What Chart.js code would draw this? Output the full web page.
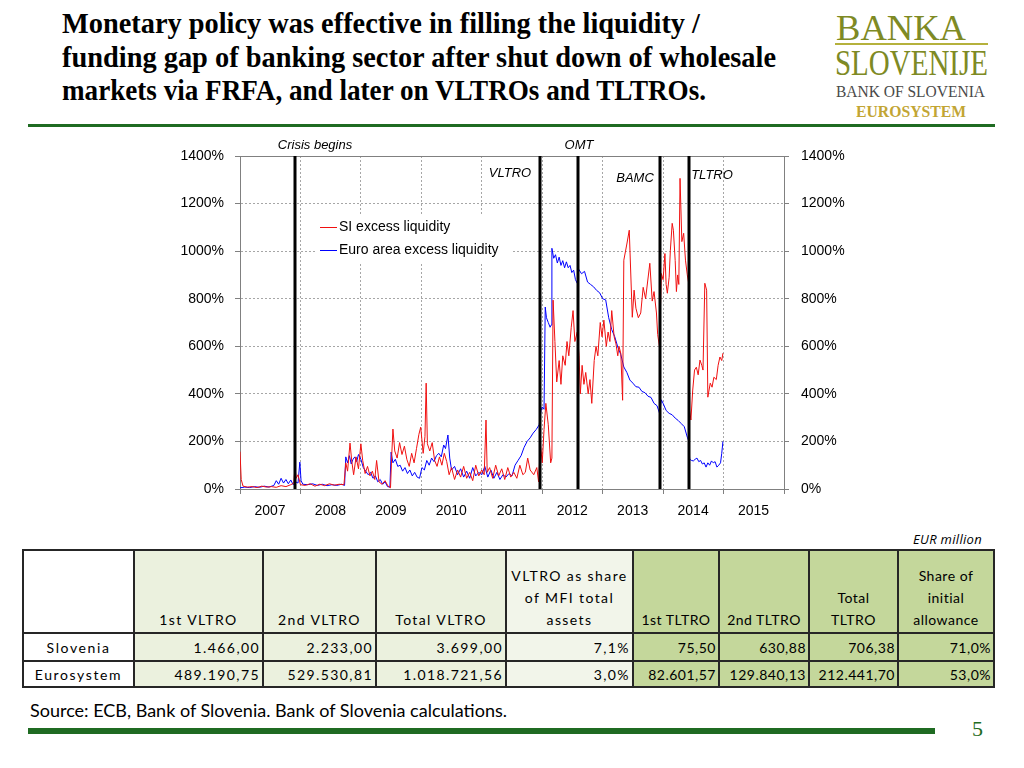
<!DOCTYPE html>
<html>
<head>
<meta charset="utf-8">
<script src="https://cdn.jsdelivr.net/npm/chart.js@4.4.0/dist/chart.umd.min.js"></script>
<style>
body { margin:0; width:1024px; height:768px; background:#fff; position:relative; overflow:hidden; font-family:'Liberation Sans', Arial, sans-serif; }
.fit { position:absolute; white-space:nowrap; transform-origin:0 0; display:inline-block; }
.title { font-family:'Liberation Serif', 'Times New Roman', serif; font-weight:bold; font-size:29px; line-height:34px; color:#000; }
.logo { font-family:'Liberation Serif', 'Times New Roman', serif; line-height:1; }
#chartBox { position:absolute; left:150px; top:130px; width:720px; height:400px; }
#tbl { position:absolute; left:22px; top:549px; width:971px; border-collapse:collapse; table-layout:fixed;
       font-family:Lato, 'Open Sans', sans-serif; font-size:14px; color:#000; }
#tbl td, #tbl th { border:2px solid #262626; padding:0 2px; font-weight:normal; white-space:nowrap; overflow:hidden; }
#tbl th { vertical-align:bottom; text-align:center; line-height:22px; padding-bottom:1px; }
#tbl tr.hd { height:83px; }
#tbl tr.r1 { height:28px; }
#tbl tr.r2 { height:26px; }
#tbl .w { background:#fff; }
#tbl .a { background:#ebf1de; letter-spacing:1.4px; }
#tbl .b { background:#f2f5ea; letter-spacing:1.4px; }
#tbl .g { background:#c4d79b; letter-spacing:0.5px; }
#tbl td { text-align:right; }
#tbl td.lab { text-align:center; background:#fff; letter-spacing:1.6px; }
</style>
</head>
<body>

<div id="t1" class="fit title" style="left:62px;top:6px">Monetary policy was effective in filling the liquidity /</div>
<div id="t2" class="fit title" style="left:62px;top:40px">funding gap of banking sector after shut down of wholesale</div>
<div id="t3" class="fit title" style="left:62px;top:73px">markets via FRFA, and later on VLTROs and TLTROs.</div>

<div id="l1" class="fit logo" style="left:836px;top:10px;font-size:36px;color:#7e8a24">BANKA</div>
<div style="position:absolute;left:835px;top:43px;width:153px;height:2px;background:#b5b13c"></div>
<div id="l2" class="fit logo" style="left:835px;top:45px;font-size:36px;color:#7e8a24">SLOVENIJE</div>
<div id="l3" class="fit logo" style="left:836px;top:83px;font-size:17px;color:#4a4a4a">BANK OF SLOVENIA</div>
<div id="l4" class="fit logo" style="left:856px;top:104px;font-size:16px;font-weight:bold;color:#c2a533">EUROSYSTEM</div>

<div style="position:absolute;left:28px;top:124px;width:967px;height:3px;background:#1f6b22"></div>

<div id="chartBox"><canvas id="liquidityChart" width="720" height="400"></canvas></div>

<div style="position:absolute;left:870px;top:530px;width:112px;text-align:right;font-family:'Open Sans', sans-serif;font-style:italic;font-weight:normal;font-size:13px;letter-spacing:0.3px">EUR million</div>

<table id="tbl">
  <colgroup>
    <col style="width:111px"><col style="width:129px"><col style="width:113px"><col style="width:130px"><col style="width:127px">
    <col style="width:86px"><col style="width:90px"><col style="width:89px"><col style="width:96px">
  </colgroup>
  <tr class="hd">
    <th class="w"></th><th class="a">1st VLTRO</th><th class="a">2nd VLTRO</th><th class="a">Total VLTRO</th>
    <th class="b">VLTRO as share<br>of MFI total<br>assets</th>
    <th class="g">1st TLTRO</th><th class="g">2nd TLTRO</th><th class="g">Total<br>TLTRO</th><th class="g">Share of<br>initial<br>allowance</th>
  </tr>
  <tr class="r1">
    <td class="lab">Slovenia</td><td class="a">1.466,00</td><td class="a">2.233,00</td><td class="a">3.699,00</td><td class="b">7,1%</td>
    <td class="g">75,50</td><td class="g">630,88</td><td class="g">706,38</td><td class="g">71,0%</td>
  </tr>
  <tr class="r2">
    <td class="lab">Eurosystem</td><td class="a">489.190,75</td><td class="a">529.530,81</td><td class="a">1.018.721,56</td><td class="b">3,0%</td>
    <td class="g">82.601,57</td><td class="g">129.840,13</td><td class="g">212.441,70</td><td class="g">53,0%</td>
  </tr>
</table>

<div id="src" class="fit" style="left:30px;top:701px;font-family:Lato, sans-serif;font-size:18px;line-height:1">Source: ECB, Bank of Slovenia. Bank of Slovenia calculations.</div>
<div style="position:absolute;left:28px;top:728px;width:907px;height:6px;background:#1f6b22"></div>
<div style="position:absolute;left:972px;top:716px;font-family:'Liberation Serif', serif;font-size:22px;color:#1f6b22">5</div>

<script>
// SI excess liquidity (red), x = fractional year
const siDates = [
  2007.00, 2007.02, 2007.05, 2007.12, 2007.20, 2007.28, 2007.36, 2007.44, 2007.52, 2007.60, 2007.68, 2007.76, 2007.84, 2007.89, 2007.91, 2007.93, 2007.96, 2008.00, 2008.08, 2008.16, 2008.24, 2008.32, 2008.40, 2008.48, 2008.56, 2008.64, 2008.72,
  2008.75, 2008.78, 2008.82, 2008.85, 2008.88, 2008.92, 2008.96, 2009.00, 2009.03, 2009.07, 2009.11, 2009.15, 2009.19, 2009.23, 2009.26, 2009.30, 2009.35, 2009.40, 2009.45, 2009.49,
  2009.51, 2009.53, 2009.56, 2009.60, 2009.64, 2009.68, 2009.72, 2009.76, 2009.80, 2009.84, 2009.88, 2009.92, 2009.96, 2009.99, 2010.03, 2010.06, 2010.08, 2010.10, 2010.14, 2010.18, 2010.22, 2010.26, 2010.30, 2010.34, 2010.38, 2010.42,
  2010.46, 2010.50, 2010.55, 2010.60, 2010.65, 2010.70, 2010.75, 2010.80, 2010.85, 2010.90, 2010.95, 2011.00, 2011.04, 2011.07, 2011.09, 2011.13, 2011.18, 2011.23, 2011.28, 2011.33, 2011.38, 2011.43, 2011.48, 2011.53, 2011.58,
  2011.63, 2011.68, 2011.72, 2011.76, 2011.80, 2011.86, 2011.91, 2011.94, 2011.97, 2012.00, 2012.03, 2012.06, 2012.10, 2012.14, 2012.16, 2012.18, 2012.21, 2012.24, 2012.28, 2012.31, 2012.34, 2012.38, 2012.41, 2012.44, 2012.48, 2012.51, 2012.54, 2012.58,
  2012.61, 2012.63, 2012.66, 2012.69, 2012.72, 2012.76, 2012.79, 2012.82, 2012.86, 2012.89, 2012.92, 2012.96, 2012.99, 2013.02, 2013.06, 2013.09, 2013.12, 2013.15, 2013.19, 2013.22,
  2013.25, 2013.27, 2013.30, 2013.33, 2013.35, 2013.40, 2013.44, 2013.49, 2013.52, 2013.55, 2013.59, 2013.63, 2013.67, 2013.71, 2013.78, 2013.82, 2013.85, 2013.89, 2013.91, 2013.94,
  2013.97, 2014.00, 2014.03, 2014.05, 2014.07, 2014.10, 2014.12, 2014.15, 2014.17, 2014.20, 2014.22, 2014.24, 2014.26, 2014.28, 2014.31, 2014.34, 2014.37, 2014.40, 2014.42, 2014.44,
  2014.46, 2014.49, 2014.52, 2014.55, 2014.58, 2014.61, 2014.64, 2014.66, 2014.69, 2014.72, 2014.74, 2014.78, 2014.81, 2014.84, 2014.88, 2014.91, 2014.94, 2014.97, 2014.99
];
const siValues = [
  157, 40, 12, 8, 10, 6, 12, 8, 10, 7, 14, 10, 18, 25, 92, 45, 60, 18, 15, 22, 12, 20, 14, 22, 16, 20, 18,
  110, 75, 193, 115, 60, 135, 85, 190, 120, 65, 95, 55, 75, 40, 120, 30, 20, 35, 12, 5,
  140, 252, 160, 130, 195, 145, 180, 125, 95, 150, 110, 170, 230, 260, 150, 220, 445, 190, 160, 195, 120, 95, 135, 100, 150, 115,
  60, 90, 40, 80, 50, 95, 45, 70, 35, 100, 55, 80, 60, 290, 70, 90, 45, 100, 55, 85, 40, 90, 50, 70, 45,
  100, 60, 70, 130, 80, 60, 90, 30, 190, 110, 250, 360, 270, 110, 130, 794, 620, 450, 540, 440, 560, 520, 620, 560, 680, 750, 620, 660,
  560, 400, 520, 440, 490, 400, 460, 360, 540, 600, 560, 700, 640, 710, 600, 660, 620, 750, 640, 610,
  560, 600, 570, 373, 962, 1030, 1088, 722, 836, 760, 720, 740, 848, 800, 949, 790, 830, 740, 650, 597,
  906, 880, 990, 860, 823, 890, 1004, 1117, 1088, 960, 830, 900, 860, 1306, 1040, 1075, 962, 900, 870, 332,
  290, 416, 500, 512, 480, 542, 520, 500, 865, 836, 386, 445, 428, 470, 460, 520, 555, 540, 571
];

// Euro area excess liquidity (blue)
const eaDates = [
  2007.00, 2007.08, 2007.16, 2007.24, 2007.32, 2007.40, 2007.48, 2007.56, 2007.60, 2007.64, 2007.68, 2007.72, 2007.76, 2007.80, 2007.84, 2007.88, 2007.92, 2007.96, 2007.99, 2008.01, 2008.04, 2008.12, 2008.20, 2008.28, 2008.36, 2008.44, 2008.52, 2008.60, 2008.68, 2008.73,
  2008.75, 2008.78, 2008.81, 2008.84, 2008.87, 2008.90, 2008.93, 2008.96, 2009.00, 2009.04, 2009.08, 2009.12, 2009.16, 2009.20, 2009.24, 2009.28, 2009.32, 2009.36, 2009.40, 2009.44, 2009.48,
  2009.50, 2009.53, 2009.57, 2009.61, 2009.65, 2009.69, 2009.73, 2009.77, 2009.81, 2009.85, 2009.89, 2009.93, 2009.97, 2010.01, 2010.05, 2010.09, 2010.13, 2010.17, 2010.21, 2010.25, 2010.29, 2010.33, 2010.37, 2010.40, 2010.44,
  2010.47, 2010.50, 2010.55, 2010.60, 2010.65, 2010.70, 2010.75, 2010.80, 2010.85, 2010.90, 2010.95, 2011.00, 2011.05, 2011.10, 2011.15, 2011.20, 2011.25, 2011.30, 2011.35, 2011.40, 2011.45, 2011.50, 2011.55, 2011.60, 2011.65, 2011.70, 2011.75, 2011.80, 2011.85, 2011.90, 2011.95,
  2011.98, 2012.00, 2012.03, 2012.05, 2012.07, 2012.10, 2012.13, 2012.15, 2012.16, 2012.19, 2012.22, 2012.25, 2012.28, 2012.31, 2012.34, 2012.37, 2012.40, 2012.43, 2012.46, 2012.49, 2012.52, 2012.55, 2012.58,
  2012.60, 2012.65, 2012.70, 2012.75, 2012.80, 2012.85, 2012.90, 2012.95, 2013.00, 2013.05, 2013.10, 2013.15, 2013.20, 2013.25, 2013.30, 2013.35, 2013.40, 2013.45, 2013.50, 2013.55,
  2013.60, 2013.65, 2013.70, 2013.75, 2013.80, 2013.85, 2013.90, 2013.94, 2013.97, 2014.00, 2014.05, 2014.10, 2014.15, 2014.20, 2014.25, 2014.30, 2014.35, 2014.40, 2014.42,
  2014.44, 2014.47, 2014.50, 2014.53, 2014.56, 2014.59, 2014.62, 2014.65, 2014.68, 2014.71, 2014.74, 2014.77, 2014.80, 2014.83, 2014.86, 2014.89, 2014.92, 2014.95, 2014.97, 2014.99
];
const eaValues = [
  5, 8, 6, 10, 7, 12, 8, 15, 35, 20, 45, 25, 40, 22, 38, 18, 30, 25, 113, 35, 20, 18, 22, 15, 20, 14, 18, 15, 20, 15,
  135, 110, 140, 105, 125, 135, 115, 145, 125, 90, 75, 60, 70, 45, 55, 30, 40, 20, 30, 10, 8,
  155, 110, 125, 95, 100, 75, 90, 65, 80, 55, 70, 50, 45, 90, 80, 120, 100, 130, 115, 140, 150, 135, 185, 170, 227,
  130, 80, 95, 60, 85, 50, 75, 45, 90, 55, 70, 60, 95, 50, 80, 45, 70, 40, 60, 50, 65, 55, 100, 120, 140, 175, 200, 215, 235, 250, 270,
  330, 345, 335, 765, 720, 700, 680, 690, 1012, 970, 985, 950, 975, 940, 960, 930, 955, 930, 940, 910, 920, 880, 865,
  925, 905, 915, 870, 860, 850, 835, 825, 800, 795, 720, 670, 640, 597, 565, 513, 490, 458, 445, 430,
  428, 410, 405, 390, 385, 360, 350, 319, 375, 360, 330, 318, 312, 298, 288, 275, 262, 218, 205,
  125, 120, 118, 125, 130, 115, 120, 105, 110, 92, 110, 100, 118, 110, 115, 92, 100, 110, 150, 200
];

const seriesNames = ['SI excess liquidity', 'Euro area excess liquidity'];
const yTicks = [0, 200, 400, 600, 800, 1000, 1200, 1400];

// policy events (vertical black lines)
const eventDates = [2007.91, 2011.96, 2012.60, 2013.95, 2014.43];
const eventNames = ['Crisis begins', 'VLTRO', 'OMT', 'BAMC', 'TLTRO'];
// label offsets from the line / top of plot
const eventLabelPos = [[20, -11], [-30, 17], [1, -11], [-25, 22], [23, 19]];

function fitWidth(id, w) {
  var el = document.getElementById(id);
  el.style.transform = 'scaleX(' + (w / el.getBoundingClientRect().width) + ')';
}
fitWidth('t1', 638);
fitWidth('t2', 714);
fitWidth('t3', 644);
fitWidth('l1', 130);
fitWidth('l2', 153);
fitWidth('l3', 149);
fitWidth('l4', 110);

function toPoints(xs, ys) {
  return xs.map(function (x, i) { return { x: x, y: ys[i] }; });
}

const framePlugin = {
  id: 'frame',
  beforeDatasetsDraw(chart) {
    const ctx = chart.ctx, a = chart.chartArea;
    ctx.save();
    ctx.strokeStyle = '#808080';
    ctx.lineWidth = 1;
    ctx.beginPath();
    ctx.moveTo(a.left, Math.round(a.top) + 0.5);
    ctx.lineTo(a.right, Math.round(a.top) + 0.5);
    ctx.stroke();

    // legend box sits on the grid, with a white background
    const lx = a.left + 76, ly = a.top + 58;
    ctx.fillStyle = '#fff';
    ctx.fillRect(lx, ly, 196, 50);
    ctx.font = '14px "Liberation Sans", Arial';
    ctx.textBaseline = 'middle';
    chart.data.datasets.forEach(function (ds, i) {
      const y = ly + 13 + i * 23 + 0.5;
      ctx.strokeStyle = ds.borderColor;
      ctx.beginPath();
      ctx.moveTo(lx + 4, y);
      ctx.lineTo(lx + 21, y);
      ctx.stroke();
      ctx.fillStyle = '#000';
      ctx.fillText(ds.label, lx + 23, y);
    });
    ctx.restore();
  }
};

const eventsPlugin = {
  id: 'events',
  afterDatasetsDraw(chart) {
    const ctx = chart.ctx, a = chart.chartArea, xs = chart.scales.x;
    ctx.save();
    ctx.strokeStyle = '#000';
    ctx.lineWidth = 3;
    ctx.font = 'italic 13px "Liberation Sans", Arial';
    ctx.textAlign = 'center';
    ctx.textBaseline = 'middle';
    ctx.fillStyle = '#000';
    eventDates.forEach(function (d, i) {
      const px = Math.round(xs.getPixelForValue(d));
      ctx.beginPath();
      ctx.moveTo(px, a.top);
      ctx.lineTo(px, a.bottom);
      ctx.stroke();
      ctx.fillText(eventNames[i], px + eventLabelPos[i][0], a.top + eventLabelPos[i][1]);
    });
    ctx.restore();
  }
};

function yAxis(position, width, pad) {
  return {
    type: 'linear',
    position: position,
    min: 0,
    max: 1400,
    afterBuildTicks: function (scale) { scale.ticks = yTicks.map(function (v) { return { value: v }; }); },
    afterFit: function (scale) { scale.width = width; },
    ticks: { color: '#000', padding: pad, font: { size: 14 }, callback: function (v) { return v + '%'; } },
    grid: { display: true, drawOnChartArea: position === 'left', color: '#a6a6a6', tickColor: '#808080', tickLength: 5 },
    border: { display: true, color: '#808080', dash: [2, 2] }
  };
}

Chart.defaults.font.family = '"Liberation Sans", Arial, sans-serif';

new Chart(document.getElementById('liquidityChart'), {
  type: 'line',
  data: {
    datasets: [{
      label: seriesNames[0],
      data: toPoints(siDates, siValues),
      borderColor: '#f01010',
      borderWidth: 1,
      pointRadius: 0,
      tension: 0
    }, {
      label: seriesNames[1],
      data: toPoints(eaDates, eaValues),
      borderColor: '#0000ff',
      borderWidth: 1,
      pointRadius: 0,
      tension: 0
    }]
  },
  options: {
    responsive: false,
    animation: false,
    layout: { padding: { top: 26, left: 0, right: 0, bottom: 0 } },
    plugins: { legend: { display: false }, tooltip: { enabled: false } },
    scales: {
      x: {
        type: 'linear',
        min: 2007,
        max: 2016,
        afterFit: function (scale) { scale.height = 41; },
        ticks: {
          stepSize: 1,
          autoSkip: false,
          maxRotation: 0,
          color: '#000',
          font: { size: 14 },
          padding: 9,
          labelOffset: 30,
          callback: function (v) { return v < 2016 ? String(v) : ''; }
        },
        grid: { color: '#a6a6a6', tickColor: '#808080', tickLength: 5 },
        border: { display: true, color: '#808080', dash: [2, 2] }
      },
      y: yAxis('left', 90, 11),
      y2: yAxis('right', 86, 12)
    }
  },
  plugins: [framePlugin, eventsPlugin]
});
</script>
</body>
</html>
